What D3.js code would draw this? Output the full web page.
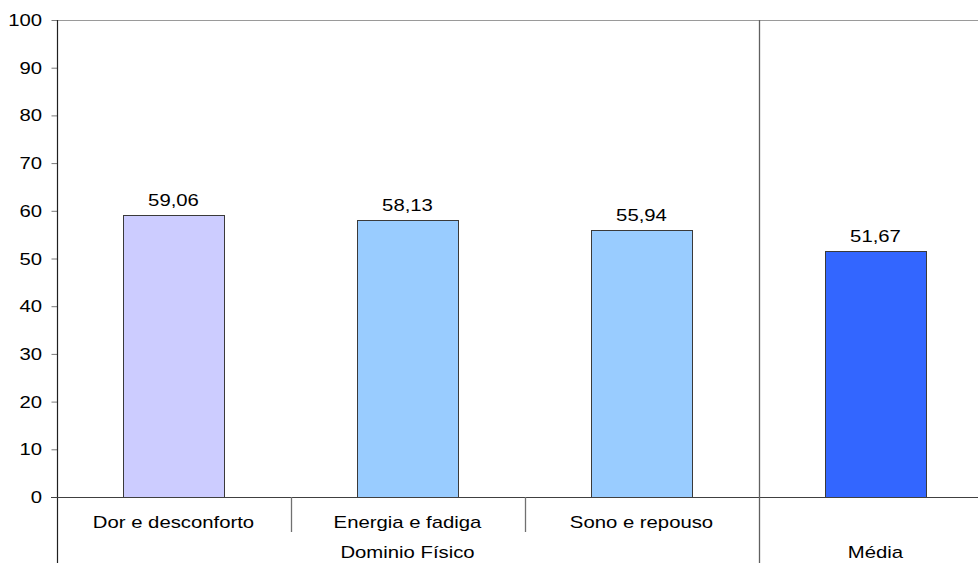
<!DOCTYPE html>
<html>
<head>
<meta charset="utf-8">
<script src="https://cdn.jsdelivr.net/npm/d3@7"></script>
<style>
  html, body { margin: 0; padding: 0; background: #fff; overflow: hidden; }
  svg { display: block; font-family: Arial, "Liberation Sans", sans-serif; }
</style>
</head>
<body>
<svg id="chart" width="978" height="563"></svg>
<script>
// Domain scores
const categories = ["Dor e desconforto", "Energia e fadiga", "Sono e repouso", "Média"];
const values = [59.06, 58.13, 55.94, 51.67];
const barColors = ["#CCCCFF", "#99CCFF", "#99CCFF", "#3366FF"];
const groups = ["Dominio Físico", "Dominio Físico", "Dominio Físico", "Média"];
const yTicks = [0, 10, 20, 30, 40, 50, 60, 70, 80, 90, 100];

(function () {
const svg = d3.select("#chart");
const plotLeft = 57, plotRight = 993, plotTop = 20, plotBottom = 497, footY = 563;
const fontSize = 16, stretch = 1.27;

const x = d3.scaleBand().domain(categories).range([plotLeft - 0.5, plotRight - 0.5])
  .paddingInner(0.57).paddingOuter(0.285);
const y = d3.scaleLinear().domain([0, 100]).range([plotBottom, plotTop]);
const step = x.step();
const bandStart = c => x(c) - x.paddingOuter() * step;

// Text drawn with a slight horizontal stretch
function label(g, tx, ty, text, anchor) {
  g.append("g")
    .attr("transform", `translate(${tx},${ty}) scale(${stretch},1)`)
    .append("text")
    .attr("text-anchor", anchor)
    .attr("font-size", fontSize)
    .attr("fill", "#000")
    .text(text);
}

// Plot frame top edge
svg.append("line")
  .attr("x1", plotLeft).attr("x2", 978)
  .attr("y1", plotTop + 0.5).attr("y2", plotTop + 0.5)
  .attr("stroke", "#9a9a9a").attr("stroke-width", 1.2);

// Bars
svg.append("g").selectAll("rect")
  .data(categories)
  .join("rect")
  .attr("x", c => Math.round(x(c)) + 0.5)
  .attr("y", (c, i) => Math.round(y(values[i])) + 0.5)
  .attr("width", Math.round(x.bandwidth()))
  .attr("height", (c, i) => Math.round(y(0)) - Math.round(y(values[i])))
  .attr("fill", (c, i) => barColors[i])
  .attr("stroke", "#3a3a3a").attr("stroke-width", 1);

// Value labels
const valG = svg.append("g");
categories.forEach((c, i) => {
  label(valG, x(c) + x.bandwidth() / 2, y(values[i]) - 9,
    values[i].toFixed(2).replace(".", ","), "middle");
});

// Y axis
const yAxis = d3.axisLeft(y).tickValues(yTicks).tickSize(6).tickPadding(0).tickFormat(d3.format("d"));
const ya = svg.append("g").attr("transform", `translate(${plotLeft + 0.5},0)`).call(yAxis);
ya.select(".domain").remove();
ya.selectAll(".tick line").attr("stroke", "#7a7a7a");
ya.selectAll(".tick text").remove();
const tickG = svg.append("g");
yTicks.forEach(t => label(tickG, 42, y(t) + 6, String(t), "end"));

// Left axis line running through the category area
svg.append("line")
  .attr("x1", plotLeft + 0.5).attr("x2", plotLeft + 0.5)
  .attr("y1", plotTop).attr("y2", footY)
  .attr("stroke", "#202020").attr("stroke-width", 1.2);

// Horizontal baseline
svg.append("line")
  .attr("x1", plotLeft - 6).attr("x2", 978)
  .attr("y1", plotBottom + 0.5).attr("y2", plotBottom + 0.5)
  .attr("stroke", "#404040").attr("stroke-width", 1.2);

// Dividers between categories and between groups
categories.forEach((c, i) => {
  if (i === 0) return;
  const xs = Math.round(bandStart(c)) + 0.5;
  const groupBreak = groups[i] !== groups[i - 1];
  svg.append("line")
    .attr("x1", xs).attr("x2", xs)
    .attr("y1", groupBreak ? plotTop : plotBottom)
    .attr("y2", groupBreak ? footY : plotBottom + 35)
    .attr("stroke", groupBreak ? "#606060" : "#707070")
    .attr("stroke-width", 1.3);
});

// Category labels
const catG = svg.append("g");
categories.forEach((c, i) => {
  if (groups[i] === c) return;
  label(catG, x(c) + x.bandwidth() / 2, 528, c, "middle");
});

// Group labels
const grpG = svg.append("g");
Array.from(new Set(groups)).forEach(gname => {
  const members = categories.filter((c, i) => groups[i] === gname);
  const x0 = bandStart(members[0]);
  const x1 = bandStart(members[members.length - 1]) + step;
  label(grpG, (x0 + x1) / 2, 558, gname, "middle");
});
})();
</script>
</body>
</html>
